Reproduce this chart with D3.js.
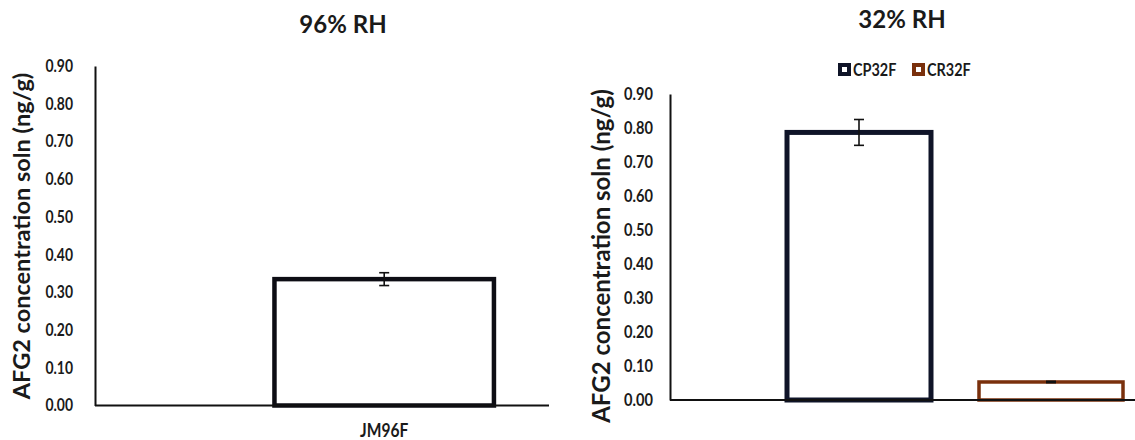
<!DOCTYPE html>
<html>
<head>
<meta charset="utf-8">
<script src="https://cdn.jsdelivr.net/npm/d3@7"></script>
<style>
  html, body { margin: 0; padding: 0; background: #fff; }
  svg { display: block; font-family: Lato, "Noto Sans", sans-serif; }
</style>
</head>
<body>
<svg id="chart" width="1135" height="440"></svg>
<script>
// AFG2 concentration in solution at two relative humidities
const categories96 = ["JM96F"];
const values96 = [0.335];
const errors96 = [0.017];

const categories32 = ["CP32F", "CR32F"];
const values32 = [0.787, 0.053];
const errors32 = [0.038, 0.002];

const yTicks = [0, 0.1, 0.2, 0.3, 0.4, 0.5, 0.6, 0.7, 0.8, 0.9];
const yTitle = "AFG2 concentration soln (ng/g)";

const svg = d3.select("#chart");
const fmt = d3.format(".2f");
const ink = "#1a1a1a";

// narrow-set text: placed at (x, y), squeezed horizontally by sx
function narrowText(parent, x, y, str, size, sx, anchor, weight) {
  return parent.append("text")
    .attr("transform", `translate(${x},${y}) scale(${sx},1)`)
    .attr("text-anchor", anchor)
    .attr("font-size", size).attr("font-weight", weight)
    .attr("fill", ink)
    .text(str);
}

function panel(cfg) {
  const g = svg.append("g");
  const y = d3.scaleLinear().domain([0, 0.9]).range([cfg.y0, cfg.y1]);
  const x = d3.scaleBand().domain(cfg.categories).range(cfg.band).padding(cfg.pad);

  // title
  g.append("text")
    .attr("x", cfg.titleX).attr("y", cfg.titleY)
    .attr("text-anchor", "middle")
    .attr("font-size", cfg.titleSize).attr("font-weight", 700)
    .attr("fill", ink)
    .text(cfg.title);

  // y axis
  const ya = g.append("g")
    .attr("transform", `translate(${cfg.axisX},0)`)
    .call(d3.axisLeft(y).tickValues(yTicks).tickFormat(fmt).tickSize(0));
  ya.select(".domain").attr("stroke", "#111").attr("stroke-width", 2);
  ya.selectAll(".tick text")
    .attr("x", 0)
    .attr("transform", `translate(${-cfg.tickPad},0) scale(${cfg.tickScale},1)`)
    .attr("font-size", cfg.tickSize).attr("font-weight", 700)
    .attr("fill", ink).attr("font-family", "Lato, sans-serif");

  // y title
  g.append("text")
    .attr("transform", `translate(${cfg.yTitleX},${cfg.yTitleY}) rotate(-90)`)
    .attr("text-anchor", "middle")
    .attr("font-size", cfg.yTitleSize).attr("font-weight", 700)
    .attr("fill", ink)
    .text(yTitle);

  // bars
  const data = cfg.categories.map((c, i) => ({ c, v: cfg.values[i], e: cfg.errors[i], i }));
  g.selectAll("rect.bar").data(data).join("rect")
    .attr("class", "bar")
    .attr("x", d => x(d.c))
    .attr("y", d => y(d.v))
    .attr("width", x.bandwidth())
    .attr("height", d => y(0) - y(d.v))
    .attr("fill", "#fff")
    .attr("stroke", d => cfg.colors[d.i])
    .attr("stroke-width", d => cfg.strokeW[d.i]);

  // x axis line
  g.append("line")
    .attr("x1", cfg.axisX).attr("x2", cfg.xEnd)
    .attr("y1", y(0)).attr("y2", y(0))
    .attr("stroke", "#111").attr("stroke-width", 2);

  // error bars
  const cx = d => x(d.c) + x.bandwidth() / 2;
  const eb = g.selectAll("g.err").data(data).join("g").attr("class", "err");
  eb.append("line")
    .attr("x1", cx).attr("x2", cx)
    .attr("y1", d => y(d.v + d.e)).attr("y2", d => y(d.v - d.e))
    .attr("stroke", "#111").attr("stroke-width", 1.6);
  eb.selectAll("line.cap").data(d => [d.v + d.e, d.v - d.e].map(v => ({ v, d }))).join("line")
    .attr("class", "cap")
    .attr("x1", p => cx(p.d) - 5).attr("x2", p => cx(p.d) + 5)
    .attr("y1", p => y(p.v)).attr("y2", p => y(p.v))
    .attr("stroke", "#111").attr("stroke-width", 1.6);

  return { g, x, y };
}

// 96% RH
const left = panel({
  title: "96% RH", titleX: 343, titleY: 33, titleSize: 24,
  categories: categories96, values: values96, errors: errors96,
  y0: 405.5, y1: 66, axisX: 95, xEnd: 549,
  band: [201.3, 567.1], pad: 0.25,
  tickPad: 22, tickSize: 17, tickScale: 0.82,
  yTitleX: 30, yTitleY: 236, yTitleSize: 23.5,
  colors: ["#0d0d14"], strokeW: [4.5]
});
categories96.forEach(c => {
  narrowText(left.g, left.x(c) + left.x.bandwidth() / 2, 437, c, 19, 0.82, "middle", 700);
});

// 32% RH
const seriesColors = ["#0f1428", "#7a300c"];
const right = panel({
  title: "32% RH", titleX: 902, titleY: 28, titleSize: 24,
  categories: categories32, values: values32, errors: errors32,
  y0: 400, y1: 94, axisX: 670, xEnd: 1135,
  band: [739, 1171], pad: 0.25,
  tickPad: 17, tickSize: 17, tickScale: 0.86,
  yTitleX: 610, yTitleY: 256, yTitleSize: 24,
  colors: seriesColors, strokeW: [5, 3.5]
});

// legend
const legendX = [838, 912];
const lg = right.g.selectAll("g.leg").data(categories32).join("g")
  .attr("class", "leg")
  .attr("transform", (d, i) => `translate(${legendX[i]},63)`);
lg.append("rect")
  .attr("x", 2).attr("y", 2).attr("width", 9).attr("height", 9)
  .attr("fill", "#fff")
  .attr("stroke", (d, i) => seriesColors[i]).attr("stroke-width", 4);
lg.each(function (d) {
  narrowText(d3.select(this), 15, 12.5, d, 17, 0.85, "start", 700);
});
</script>
</body>
</html>
